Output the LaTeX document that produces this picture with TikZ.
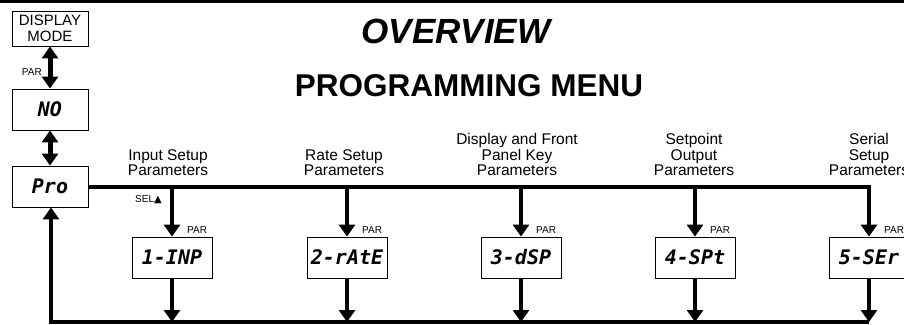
\documentclass[tikz,border=0pt]{standalone}
\usepackage{fontspec}
\setmainfont{Liberation Sans}
\newfontfamily\segfont{DejaVu Sans Mono}
\newfontfamily\symfont{DejaVu Sans}
\usetikzlibrary{arrows.meta}
\begin{document}
\begin{tikzpicture}[x=1pt,y=-1pt,
  box/.style={draw, line width=0.8pt, minimum width=76pt, minimum height=41pt, inner sep=0pt},
  subbox/.style={box, minimum width=80pt},
  seg/.style={font=\segfont\bfseries\itshape\fontsize{20}{20}\selectfont},
  lbl/.style={font=\fontsize{15.5}{15.5}\selectfont, align=center, inner sep=0pt, anchor=south},
  small/.style={font=\fontsize{10}{10}\selectfont, inner sep=0pt},
  flow/.style={line width=4pt, line join=miter},
  arr/.style={line width=4pt, line join=miter, -{Triangle[width=16pt,length=12pt]}},
  dbl/.style={line width=5pt, {Triangle[width=16pt,length=12pt]}-{Triangle[width=16pt,length=12pt]}}]
\useasboundingbox (0,0) rectangle (904,324);
% top rule
\draw[line width=3pt] (0,1.5) -- (904,1.5);
% titles
\node[font=\bfseries\itshape\fontsize{35}{35}\selectfont, inner sep=0pt, anchor=base] (ov) at (456,43) {OVERVIEW};
\node[font=\bfseries\fontsize{31.5}{31.5}\selectfont, inner sep=0pt, anchor=base] (pm) at (469,96) {PROGRAMMING MENU};
% left column
\node[box, minimum height=35pt, align=center, font=\fontsize{15}{16}\selectfont] (dm) at (50,28.5) {DISPLAY\\MODE};
\node[box, seg] (no) at (50,109.5) {NO};
\node[box, seg] (pro) at (50,186.5) {Pro};
\draw[dbl] (dm.south) -- (no.north);
\draw[dbl] (no.south) -- (pro.north);
\node[small, anchor=base east] (parl) at (42,75) {PAR};
% sub boxes
\node[subbox, seg] (s1) at (172,257.5) {1-INP};
\node[subbox, seg] (s2) at (347,257.5) {2-rAtE};
\node[subbox, seg] (s3) at (521,257.5) {3-dSP};
\node[subbox, seg] (s4) at (695,257.5) {4-SPt};
\node[subbox, seg] (s5) at (869,257.5) {5-SEr};
% main line
\draw[arr] (pro.east) -| (s5.north);
\foreach \s in {s1,s2,s3,s4}{
  \draw[arr] (\s.north |- pro.east) -- (\s.north);
}
% bottom return
\coordinate (bl) at (51,322);
\foreach \s in {s1,s2,s3,s4,s5}{
  \draw[arr] (\s.south) -- (\s.south |- bl);
}
\draw[arr] (s5.south |- bl) -- (bl) -- (bl |- pro.south);
% labels
\node[lbl] (l1) at (168,176) {Input Setup\\Parameters};
\node[lbl] (l2) at (344,176) {Rate Setup\\Parameters};
\node[lbl] (l3) at (517,176) {Display and Front\\Panel Key\\Parameters};
\node[lbl] (l4) at (694,176) {Setpoint\\Output\\Parameters};
\node[lbl] (l5) at (869,176) {Serial\\Setup\\Parameters};
% PAR / SEL labels
\node[small, anchor=base east] (sel) at (162,202) {SEL{\symfont ▲}};
\foreach \s/\n in {s1/p1,s2/p2,s3/p3,s4/p4,s5/p5}{
  \node[small, anchor=base west] (\n) at ([xshift=15pt,yshift=3pt]\s.north) {PAR};
}
\end{tikzpicture}
\end{document}
